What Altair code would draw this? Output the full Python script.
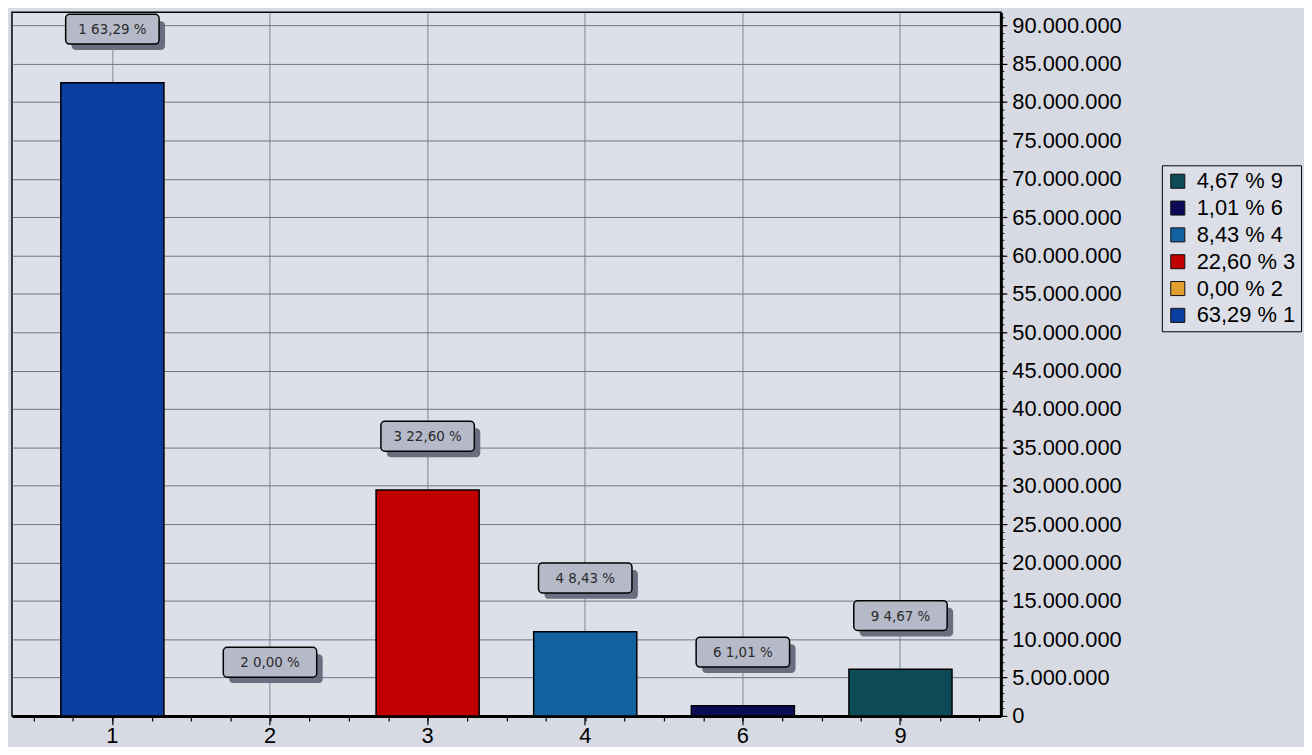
import altair as alt
import pandas as pd

categories = ["1", "2", "3", "4", "6", "9"]
values = [82_500_000, 0, 29_450_000, 10_980_000, 1_320_000, 6_080_000]
percents = ["63,29", "0,00", "22,60", "8,43", "1,01", "4,67"]
colors = ["#0B3E9E", "#E0A030", "#C00000", "#1262A0", "#0B0B55", "#0C4A55"]
y_major = list(range(0, 90_000_001, 5_000_000))
y_minor = list(range(0, 91_000_001, 1_000_000))
x_minor = [i * 0.25 for i in range(-2, 23)]

df = pd.DataFrame({"cat": categories, "value": values, "pct": percents})
df["box"] = df["cat"] + " " + df["pct"] + " %"
df["legend"] = df["pct"] + " % " + df["cat"]
legend_order = list(df["legend"])[::-1]
legend_colors = colors[::-1]

Y_MAX = 91_700_000
FONT = "Liberation Sans"
yscale = alt.Scale(domain=[0, Y_MAX], nice=False, zero=True)
xscale = alt.Scale(domain=categories, paddingInner=0.346, paddingOuter=0.31)

base = alt.Chart(df)

x_axis = alt.Axis(title=None, labelAngle=0, labelFontSize=22, labelFont=FONT,
                  labelColor="black", tickSize=9, tickColor="black", tickWidth=1.2,
                  domainWidth=3, domainColor="black", grid=True, gridColor="#7E8696",
                  gridWidth=1, labelPadding=1, bandPosition=0.5)
y_axis = alt.Axis(title=None, orient="right", values=y_major, labelOverlap=False,
                  labelExpr="replace(replace(replace(format(datum.value, ','), ',', '.'), ',', '.'), ',', '.')",
                  labelFontSize=22, labelFont=FONT, labelColor="black", tickSize=6,
                  tickColor="black", tickWidth=1.2, domainWidth=3, domainColor="black",
                  grid=True, gridColor="#6E7686", gridWidth=1, labelPadding=5)

x_enc = alt.X("cat:N", sort=categories, scale=xscale, axis=x_axis)
y_enc = alt.Y("value:Q", scale=yscale, stack=None, axis=y_axis)

bars = base.mark_bar(stroke="black", strokeWidth=1.5).encode(
    x=x_enc,
    y=y_enc,
    color=alt.Color(
        "legend:N",
        scale=alt.Scale(domain=legend_order, range=legend_colors),
        legend=alt.Legend(title=None, orient="none", legendX=1157, legendY=154,
                          strokeColor="black", fillColor="#DCDFE7", padding=5,
                          symbolType="square", symbolSize=200, symbolStrokeColor="#111",
                          symbolStrokeWidth=1, symbolOpacity=1, labelFontSize=22,
                          labelFont=FONT, labelColor="black", rowPadding=5,
                          labelOffset=8),
    ),
)

shadow = base.mark_bar(width=94, color="#6A6E7E", cornerRadius=4,
                       xOffset=6, yOffset=-62, y2Offset=-33).encode(
    x=x_enc, y=y_enc, y2=alt.Y2("value"),
)
box = base.mark_bar(width=94, color="#B6B9C8", stroke="black", strokeWidth=1.5,
                    cornerRadius=4, yOffset=-69, y2Offset=-39).encode(
    x=x_enc, y=y_enc, y2=alt.Y2("value"),
)
text = base.mark_text(dy=-54, baseline="middle", fontSize=15,
                      font="Liberation Sans Narrow, DejaVu Sans Condensed, sans-serif",
                      color="#2A2A2A").encode(
    x=x_enc, y=y_enc, text="box:N",
)

main = alt.layer(bars, shadow, box, text)

minor = base.mark_point(opacity=0).encode(
    x=alt.X(datum=0, type="quantitative",
            scale=alt.Scale(domain=[-0.637, 5.637], nice=False, zero=False),
            axis=alt.Axis(orient="bottom", values=x_minor, labels=False, domain=False,
                          grid=False, tickSize=5, tickColor="black", tickWidth=1.2,
                          title=None)),
    y=alt.Y(datum=0, type="quantitative",
            scale=alt.Scale(domain=[0, Y_MAX], nice=False),
            axis=alt.Axis(orient="right", values=y_minor, labels=False, domain=False,
                          grid=False, tickSize=3, tickColor="black", tickWidth=1,
                          title=None)),
)

chart = alt.layer(main, minor).resolve_scale(x="independent", y="independent").properties(
    width=995, height=708,
    padding={"left": 4, "top": 2, "right": 305, "bottom": 29},
    autosize=alt.AutoSizeParams(type="none"),
    background="#D7DAE2",
).configure_view(stroke="black", strokeWidth=1.5, fill="#DDE0E8")

chart.save("out.html", embed_options={"renderer": "svg", "actions": False})
